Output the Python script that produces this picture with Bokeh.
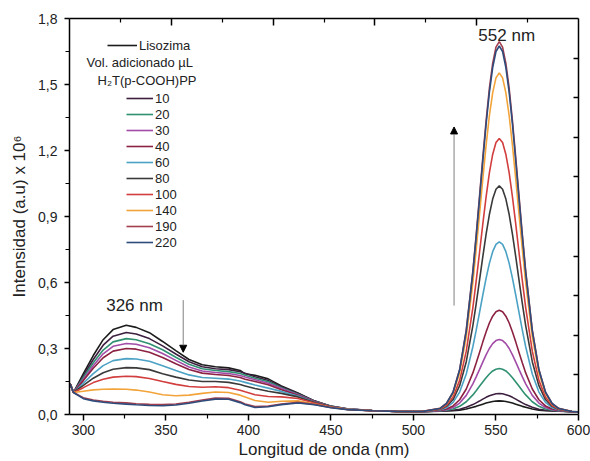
from bokeh.plotting import figure
from bokeh.models import (Range1d, FixedTicker, LinearAxis, Legend, LegendItem, Label,
                          Arrow, NormalHead, CustomJSTickFormatter)
from bokeh.embed import file_html
from bokeh.resources import INLINE

FONT = "Liberation Sans"
TXT = "#222222"

# ---------------- data ----------------
wl_band = [292, 294, 300, 306, 312, 318, 326, 332, 340, 348, 356, 364, 372, 380, 388,
           395, 398, 404, 412, 420, 430, 440, 450, 460, 475, 490, 505]
wl_peak = [516, 520, 524, 528, 532, 536, 538, 540, 542, 544, 546, 548, 550, 552, 554,
           556, 558, 560, 562, 564, 566, 568, 572, 576, 580, 584, 588]
wl_tail = [596, 600]

band_lisozima = [0.140, 0.100, 0.186, 0.268, 0.340, 0.386, 0.406, 0.396, 0.372, 0.332, 0.290, 0.250, 0.226, 0.217, 0.212, 0.200, 0.185, 0.178, 0.162, 0.130, 0.098, 0.062, 0.038, 0.026, 0.018, 0.014, 0.013]
band_10 = [0.140, 0.100, 0.176, 0.250, 0.315, 0.356, 0.373, 0.366, 0.345, 0.312, 0.275, 0.240, 0.217, 0.208, 0.204, 0.194, 0.187, 0.172, 0.155, 0.126, 0.095, 0.061, 0.037, 0.025, 0.018, 0.014, 0.013]
band_20 = [0.140, 0.100, 0.168, 0.235, 0.293, 0.330, 0.345, 0.340, 0.322, 0.294, 0.260, 0.228, 0.208, 0.200, 0.195, 0.186, 0.178, 0.165, 0.149, 0.122, 0.092, 0.060, 0.037, 0.025, 0.018, 0.014, 0.013]
band_30 = [0.140, 0.100, 0.160, 0.222, 0.276, 0.310, 0.323, 0.319, 0.303, 0.277, 0.246, 0.216, 0.198, 0.191, 0.186, 0.177, 0.170, 0.158, 0.142, 0.118, 0.090, 0.059, 0.036, 0.025, 0.018, 0.014, 0.013]
band_40 = [0.140, 0.100, 0.154, 0.210, 0.258, 0.288, 0.300, 0.297, 0.283, 0.259, 0.231, 0.205, 0.188, 0.182, 0.177, 0.168, 0.160, 0.150, 0.135, 0.113, 0.088, 0.058, 0.036, 0.024, 0.017, 0.014, 0.013]
band_60 = [0.140, 0.100, 0.142, 0.186, 0.222, 0.245, 0.254, 0.252, 0.242, 0.222, 0.200, 0.180, 0.168, 0.165, 0.161, 0.152, 0.146, 0.134, 0.120, 0.105, 0.084, 0.056, 0.035, 0.024, 0.017, 0.014, 0.013]
band_80 = [0.140, 0.100, 0.132, 0.165, 0.190, 0.206, 0.213, 0.212, 0.204, 0.185, 0.170, 0.157, 0.150, 0.150, 0.146, 0.136, 0.130, 0.118, 0.106, 0.096, 0.080, 0.055, 0.035, 0.023, 0.017, 0.014, 0.013]
band_100 = [0.140, 0.100, 0.122, 0.145, 0.160, 0.170, 0.174, 0.172, 0.164, 0.150, 0.137, 0.127, 0.124, 0.126, 0.122, 0.110, 0.103, 0.090, 0.082, 0.080, 0.073, 0.052, 0.034, 0.023, 0.017, 0.014, 0.013]
band_140 = [0.140, 0.100, 0.106, 0.112, 0.115, 0.116, 0.115, 0.111, 0.102, 0.090, 0.085, 0.088, 0.096, 0.102, 0.100, 0.088, 0.080, 0.064, 0.056, 0.060, 0.062, 0.048, 0.033, 0.024, 0.017, 0.014, 0.013]
band_190 = [0.140, 0.100, 0.076, 0.066, 0.060, 0.056, 0.053, 0.049, 0.046, 0.045, 0.048, 0.056, 0.066, 0.075, 0.074, 0.058, 0.048, 0.036, 0.038, 0.048, 0.055, 0.046, 0.032, 0.023, 0.017, 0.014, 0.013]
band_220 = [0.140, 0.100, 0.072, 0.062, 0.056, 0.051, 0.047, 0.044, 0.041, 0.040, 0.043, 0.051, 0.061, 0.070, 0.069, 0.054, 0.044, 0.032, 0.035, 0.045, 0.052, 0.044, 0.031, 0.022, 0.017, 0.014, 0.013]

peak_lisozima = [0.015, 0.016, 0.017, 0.020, 0.025, 0.033, 0.037, 0.042, 0.047, 0.052, 0.056, 0.059, 0.061, 0.062, 0.061, 0.059, 0.056, 0.052, 0.047, 0.042, 0.037, 0.033, 0.025, 0.020, 0.017, 0.016, 0.015]
peak_10 = [0.016, 0.017, 0.019, 0.024, 0.033, 0.045, 0.053, 0.061, 0.070, 0.078, 0.085, 0.090, 0.094, 0.095, 0.094, 0.090, 0.085, 0.078, 0.070, 0.061, 0.053, 0.045, 0.033, 0.024, 0.019, 0.017, 0.016]
peak_20 = [0.016, 0.019, 0.025, 0.037, 0.058, 0.089, 0.108, 0.128, 0.148, 0.167, 0.184, 0.198, 0.206, 0.209, 0.206, 0.198, 0.184, 0.167, 0.148, 0.128, 0.108, 0.089, 0.058, 0.037, 0.025, 0.019, 0.016]
peak_30 = [0.017, 0.022, 0.032, 0.052, 0.087, 0.139, 0.171, 0.204, 0.238, 0.271, 0.300, 0.322, 0.336, 0.341, 0.336, 0.322, 0.300, 0.271, 0.238, 0.204, 0.171, 0.139, 0.087, 0.052, 0.032, 0.022, 0.017]
peak_40 = [0.018, 0.025, 0.039, 0.067, 0.116, 0.189, 0.234, 0.281, 0.329, 0.375, 0.416, 0.447, 0.467, 0.474, 0.467, 0.447, 0.416, 0.375, 0.329, 0.281, 0.234, 0.189, 0.116, 0.067, 0.039, 0.025, 0.018]
peak_60 = [0.021, 0.031, 0.055, 0.102, 0.184, 0.308, 0.382, 0.462, 0.542, 0.619, 0.687, 0.740, 0.773, 0.785, 0.773, 0.740, 0.687, 0.619, 0.542, 0.462, 0.382, 0.308, 0.184, 0.102, 0.055, 0.031, 0.021]
peak_80 = [0.023, 0.037, 0.068, 0.131, 0.240, 0.404, 0.503, 0.609, 0.716, 0.819, 0.909, 0.979, 1.024, 1.039, 1.024, 0.979, 0.909, 0.819, 0.716, 0.609, 0.503, 0.404, 0.240, 0.131, 0.068, 0.037, 0.023]
peak_100 = [0.024, 0.041, 0.079, 0.155, 0.288, 0.486, 0.606, 0.734, 0.864, 0.988, 1.098, 1.182, 1.236, 1.255, 1.236, 1.182, 1.098, 0.988, 0.864, 0.734, 0.606, 0.486, 0.288, 0.155, 0.079, 0.041, 0.024]
peak_140 = [0.027, 0.047, 0.095, 0.189, 0.353, 0.599, 0.749, 0.907, 1.069, 1.222, 1.358, 1.462, 1.530, 1.553, 1.530, 1.462, 1.358, 1.222, 1.069, 0.907, 0.749, 0.599, 0.353, 0.189, 0.095, 0.047, 0.027]
peak_190 = [0.028, 0.050, 0.102, 0.205, 0.385, 0.653, 0.816, 0.989, 1.166, 1.334, 1.482, 1.596, 1.670, 1.695, 1.670, 1.596, 1.482, 1.334, 1.166, 0.989, 0.816, 0.653, 0.385, 0.205, 0.102, 0.050, 0.028]
peak_220 = [0.027, 0.050, 0.101, 0.203, 0.380, 0.646, 0.807, 0.978, 1.152, 1.318, 1.464, 1.577, 1.650, 1.675, 1.650, 1.577, 1.464, 1.318, 1.152, 0.978, 0.807, 0.646, 0.380, 0.203, 0.101, 0.050, 0.027]

tail_all = [0.013, 0.012]

series_labels = ["Lisozima", "10", "20", "30", "40", "60", "80", "100", "140", "190", "220"]
series_colors = ["#1c1c1c", "#3d2040", "#2f9072", "#a24ca8", "#8c2242", "#4ba2c4",
                 "#3a3a3a", "#d23e3e", "#f2a43a", "#a23e4e", "#2d4c7c"]
band_values = [band_lisozima, band_10, band_20, band_30, band_40, band_60, band_80,
               band_100, band_140, band_190, band_220]
peak_values = [peak_lisozima, peak_10, peak_20, peak_30, peak_40, peak_60, peak_80,
               peak_100, peak_140, peak_190, peak_220]

y_ticks = [0.0, 0.3, 0.6, 0.9, 1.2, 1.5, 1.8]
y_minor = [0.15, 0.45, 0.75, 1.05, 1.35, 1.65]
x_ticks = [300, 350, 400, 450, 500, 550, 600]
x_minor = [325, 375, 425, 475, 525, 575]

X_MIN, X_MAX = 291.6, 600.0
Y_MIN, Y_MAX = 0.0, 1.8

# ---------------- figure ----------------
p = figure(width=590, height=461, output_backend="svg", toolbar_location=None,
           x_range=Range1d(X_MIN, X_MAX), y_range=Range1d(Y_MIN, Y_MAX),
           min_border_left=69, min_border_right=12, min_border_top=18, min_border_bottom=47)
p.grid.visible = False
p.outline_line_color = None
p.background_fill_color = "white"
p.border_fill_color = "white"

wl_all = wl_band + wl_peak + wl_tail
renderers = []
for lab, col, b, pk in zip(series_labels, series_colors, band_values, peak_values):
    r = p.line(wl_all, b + pk + tail_all, line_color=col, line_width=1.6)
    renderers.append(r)

# bottom axis
xa = p.xaxis[0]
xa.ticker = FixedTicker(ticks=x_ticks, minor_ticks=x_minor)
xa.axis_line_width = 1.5
xa.axis_line_color = "black"
xa.major_tick_in = 0
xa.major_tick_out = 6
xa.minor_tick_in = 0
xa.minor_tick_out = 4
xa.major_tick_line_width = 1.5
xa.minor_tick_line_width = 1.2
xa.major_label_text_font = FONT
xa.major_label_text_font_size = "14px"
xa.major_label_text_color = TXT
xa.major_label_standoff = 4
xa.axis_label = "Longitud de onda (nm)"
xa.axis_label_text_font = FONT
xa.axis_label_text_font_size = "17px"
xa.axis_label_text_font_style = "normal"
xa.axis_label_text_color = TXT
xa.axis_label_standoff = 2

# left axis
ya = p.yaxis[0]
ya.ticker = FixedTicker(ticks=y_ticks, minor_ticks=y_minor)
ya.formatter = CustomJSTickFormatter(code="return tick.toFixed(1).replace('.', ',');")
ya.axis_line_width = 1.5
ya.axis_line_color = "black"
ya.major_tick_in = 0
ya.major_tick_out = 5
ya.minor_tick_in = 0
ya.minor_tick_out = 4
ya.major_tick_line_width = 1.5
ya.minor_tick_line_width = 1.2
ya.major_label_text_font = FONT
ya.major_label_text_font_size = "14px"
ya.major_label_text_color = TXT
ya.major_label_standoff = 7
ya.axis_label = "Intensidad (a.u) x 10\u2076"
ya.axis_label_text_font = FONT
ya.axis_label_text_font_size = "17px"
ya.axis_label_text_font_style = "normal"
ya.axis_label_text_color = TXT
ya.axis_label_standoff = 6

# mirrored top / right axes (ticks only, no labels drawn)
top_step = (X_MAX - X_MIN) / 10.0
top_major = [X_MIN + top_step * k for k in (2, 4, 6, 8)]
top_minor = [X_MIN + top_step * k for k in (1, 3, 5, 7, 9)]
top = LinearAxis(ticker=FixedTicker(ticks=top_major, minor_ticks=top_minor),
                 major_label_text_font_size="0px", major_label_text_color=None,
                 major_label_text_alpha=0,
                 major_tick_in=7, major_tick_out=0,
                 minor_tick_in=4, minor_tick_out=0, axis_line_width=1.5,
                 major_tick_line_width=1.5, minor_tick_line_width=1.2)
p.add_layout(top, "above")

right_step = (Y_MAX - Y_MIN) / 10.0
right_ticks = [Y_MIN + right_step * k for k in range(1, 10)]
right = LinearAxis(ticker=FixedTicker(ticks=right_ticks, minor_ticks=[]),
                   major_label_text_font_size="0px", major_label_text_color=None,
                   major_label_text_alpha=0,
                   major_tick_in=5, major_tick_out=0,
                   minor_tick_in=0, minor_tick_out=0, axis_line_width=1.5,
                   major_tick_line_width=1.3)
p.add_layout(right, "right")

# legends
common = dict(padding=0, margin=0, spacing=0, border_line_alpha=0, background_fill_alpha=0,
              label_text_font=FONT, label_text_font_size="13px", label_text_color=TXT,
              label_standoff=2, glyph_height=16, label_height=16)
leg1 = Legend(items=[LegendItem(label=series_labels[0], renderers=[renderers[0]])],
              location=(38, 361), glyph_width=30, **common)
leg2 = Legend(items=[LegendItem(label=l, renderers=[r]) for l, r in zip(series_labels[1:], renderers[1:])],
              location=(57, 164), glyph_width=27, **common)
p.add_layout(leg1)
p.add_layout(leg2)

p.add_layout(Label(x=335.3, y=1.598, text="Vol.  adicionado \u00b5L", text_align="center",
                   text_baseline="middle", text_font=FONT, text_font_size="13px", text_color=TXT))
p.add_layout(Label(x=338.6, y=1.52, text="H\u2082T(p-COOH)PP", text_align="center",
                   text_baseline="middle", text_font=FONT, text_font_size="13px", text_color=TXT))

# annotations
p.add_layout(Label(x=331, y=0.497, text="326 nm", text_align="center", text_baseline="middle",
                   text_font=FONT, text_font_size="17px", text_color=TXT))
p.add_layout(Label(x=556.5, y=1.724, text="552 nm", text_align="center", text_baseline="middle",
                   text_font=FONT, text_font_size="17px", text_color=TXT))

p.add_layout(Arrow(end=NormalHead(size=7, fill_color="black", line_color="black"),
                   x_start=360.5, y_start=0.52, x_end=360.5, y_end=0.283,
                   line_color="#808080", line_width=1))
p.add_layout(Arrow(end=NormalHead(size=7, fill_color="black", line_color="black"),
                   x_start=524.6, y_start=0.495, x_end=524.6, y_end=1.307,
                   line_color="#808080", line_width=1))

open("out.html", "w").write(file_html(p, INLINE))
